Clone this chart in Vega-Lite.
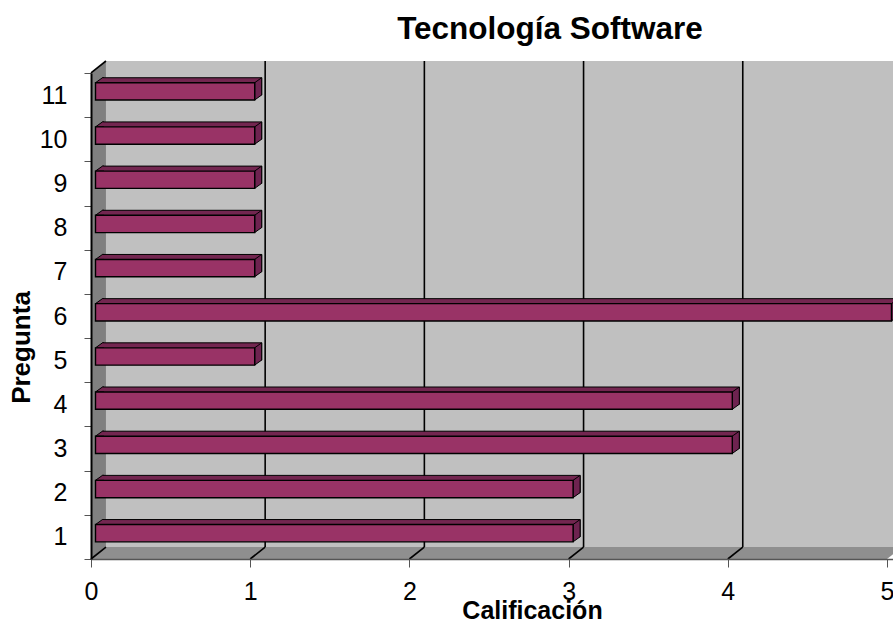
{"$schema":"https://vega.github.io/schema/vega-lite/v6.json","width":802,"height":498,"autosize":{"type":"none"},"padding":{"left":91,"top":61,"right":0,"bottom":63},"background":"white","title":{"text":"Tecnología Software","font":"Liberation Sans","fontSize":31.5,"fontWeight":"bold","color":"#000000","anchor":"middle","frame":"group","dx":58,"dy":6,"offset":10},"config":{"view":{"stroke":null},"axis":{"labelFont":"Liberation Sans","titleFont":"Liberation Sans","grid":false}},"datasets":{"bars":[{"pregunta":1,"calificacion":3},{"pregunta":2,"calificacion":3},{"pregunta":3,"calificacion":4},{"pregunta":4,"calificacion":4},{"pregunta":5,"calificacion":1},{"pregunta":6,"calificacion":5},{"pregunta":7,"calificacion":1},{"pregunta":8,"calificacion":1},{"pregunta":9,"calificacion":1},{"pregunta":10,"calificacion":1},{"pregunta":11,"calificacion":1}],"leftWall":[{"x":0,"y":0,"y2":11},{"x":0.094,"y":0.27,"y2":11.27}],"floor":[{"y":0,"x":0,"x2":5},{"y":0.27,"x":0.094,"x2":5.094}],"backWall":[{"x":0.094,"x2":5.094,"y":0.27,"y2":11.27}],"grid":[{"x":1.094},{"x":2.094},{"x":3.094},{"x":4.094}],"feet":[{"x":0,"x2":0.094,"y":0,"y2":0.27},{"x":1,"x2":1.094,"y":0,"y2":0.27},{"x":2,"x2":2.094,"y":0,"y2":0.27},{"x":3,"x2":3.094,"y":0,"y2":0.27},{"x":4,"x2":4.094,"y":0,"y2":0.27},{"x":0,"x2":0.094,"y":11,"y2":11.27}]},"resolve":{"scale":{"y":"independent"}},"layer":[{"data":{"name":"backWall"},"mark":{"type":"rect","fill":"#c0c0c0"},"encoding":{"x":{"field":"x","type":"quantitative","scale":{"domain":[0,5.0377],"nice":false},"axis":{"values":[0,1,2,3,4,5],"format":"d","title":"Calificación","titleFontSize":25,"titleFontWeight":"bold","titleColor":"#000000","titleX":441,"titleY":39,"titleAnchor":"middle","labelFontSize":25,"labelColor":"#000000","labelPadding":12,"labelFlush":false,"labelBound":false,"labelOverlap":false,"tickColor":"#555555","tickSize":8,"tickWidth":1,"domainColor":"#555555","domainWidth":1.5,"zindex":1}},"x2":{"field":"x2"},"y":{"field":"y","type":"quantitative","scale":{"domain":[0,11.27],"nice":false},"axis":null},"y2":{"field":"y2"}}},{"data":{"name":"leftWall"},"mark":{"type":"area","fill":"#808080","orient":"vertical"},"encoding":{"x":{"field":"x","type":"quantitative","scale":{"domain":[0,5.0377],"nice":false}},"y":{"field":"y","type":"quantitative","scale":{"domain":[0,11.27],"nice":false},"axis":null},"y2":{"field":"y2"}}},{"data":{"name":"floor"},"mark":{"type":"area","fill":"#8f8f8f","orient":"horizontal"},"encoding":{"y":{"field":"y","type":"quantitative","scale":{"domain":[0,11.27],"nice":false},"axis":null},"x":{"field":"x","type":"quantitative","scale":{"domain":[0,5.0377],"nice":false}},"x2":{"field":"x2"}}},{"data":{"name":"grid"},"mark":{"type":"rule","stroke":"#000000","strokeWidth":1.6},"encoding":{"x":{"field":"x","type":"quantitative","scale":{"domain":[0,5.0377],"nice":false}},"y":{"datum":0.27,"type":"quantitative","scale":{"domain":[0,11.27],"nice":false},"axis":null},"y2":{"datum":11.27}}},{"data":{"name":"feet"},"mark":{"type":"rule","stroke":"#000000","strokeWidth":1.6},"encoding":{"x":{"field":"x","type":"quantitative","scale":{"domain":[0,5.0377],"nice":false}},"x2":{"field":"x2"},"y":{"field":"y","type":"quantitative","scale":{"domain":[0,11.27],"nice":false},"axis":null},"y2":{"field":"y2"}}},{"data":{"name":"bars"},"mark":{"type":"bar","orient":"horizontal","size":17.3,"xOffset":11.5,"yOffset":-8.7,"fill":"#732650","stroke":"#000000","strokeWidth":1},"encoding":{"x":{"field":"calificacion","type":"quantitative","scale":{"domain":[0,5.0377],"nice":false}},"y":{"field":"pregunta","type":"ordinal","scale":{"domain":[11,10,9,8,7,6,5,4,3,2,1],"range":[12,498],"paddingInner":0,"paddingOuter":0},"axis":{"title":"Pregunta","titleFontSize":26,"titleFontWeight":"bold","titleColor":"#000000","titleX":-57,"titleY":286,"titleAnchor":"middle","labelFontSize":25,"labelColor":"#000000","labelPadding":17,"labelAngle":0,"tickBand":"extent","tickColor":"#555555","tickSize":7,"tickWidth":1,"domainColor":"#000000","domainWidth":2,"labelOverlap":false,"labelBound":false,"zindex":1}}}},{"data":{"name":"bars"},"mark":{"type":"point","filled":true,"size":4,"shape":"M13,-12.4 L4.5,-12.4 L11.5,-17.4 L13,-17.4","fill":"#732650","stroke":"#000000","strokeWidth":1,"opacity":1},"encoding":{"x":{"datum":0,"type":"quantitative","scale":{"domain":[0,5.0377],"nice":false}},"y":{"field":"pregunta","type":"ordinal","scale":{"domain":[11,10,9,8,7,6,5,4,3,2,1],"range":[12,498],"paddingInner":0,"paddingOuter":0},"axis":null}}},{"data":{"name":"bars"},"mark":{"type":"point","filled":true,"size":4,"shape":"M4.5,-12.4 L11.5,-17.4 L11.5,-0.1 L4.5,4.9 Z","fill":"#6e2350","stroke":"#000000","strokeWidth":1,"opacity":1},"encoding":{"x":{"field":"calificacion","type":"quantitative","scale":{"domain":[0,5.0377],"nice":false}},"y":{"field":"pregunta","type":"ordinal","scale":{"domain":[11,10,9,8,7,6,5,4,3,2,1],"range":[12,498],"paddingInner":0,"paddingOuter":0},"axis":null}}},{"data":{"name":"bars"},"mark":{"type":"bar","orient":"horizontal","size":17.3,"xOffset":4.5,"yOffset":-3.7,"fill":"#993366","stroke":"#000000","strokeWidth":1.4},"encoding":{"x":{"field":"calificacion","type":"quantitative","scale":{"domain":[0,5.0377],"nice":false}},"y":{"field":"pregunta","type":"ordinal","scale":{"domain":[11,10,9,8,7,6,5,4,3,2,1],"range":[12,498],"paddingInner":0,"paddingOuter":0},"axis":null}}}]}
